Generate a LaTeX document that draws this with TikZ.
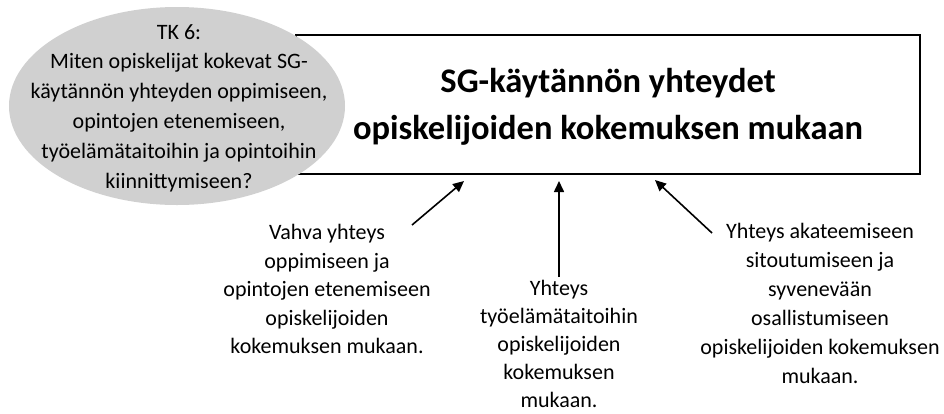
\documentclass[tikz,border=0pt]{standalone}
\usepackage{fontspec}
\setmainfont{Carlito}
\usetikzlibrary{arrows.meta,shapes.geometric}
\definecolor{qgray}{RGB}{208,208,208}
\begin{document}
\begin{tikzpicture}[x=1pt,y=-1pt,
  conn/.style={line width=1.6pt,-{Triangle[length=11pt,width=10pt]}},
  lbl/.style={align=center,inner sep=0pt,font=\fontsize{22}{28.5}\selectfont},
  titletext/.style={align=center,inner sep=0pt,font=\bfseries\fontsize{34.5}{47}\selectfont},
  frame/.style={draw=black,line width=2.2pt,inner sep=0pt},
  qbubble/.style={ellipse,fill=qgray,inner sep=0pt}]
\fill[white] (0,0) rectangle (944,413);
\useasboundingbox (0,0) rectangle (944,413);

% main box and its title
\node[frame,minimum width=624pt,minimum height=139pt] (box) at (608,104.5) {};
\node[titletext] (title) at (608,107) {SG-käytännön yhteydet\\opiskelijoiden kokemuksen mukaan};

% research question bubble, drawn over the box's left edge
\node[qbubble,minimum width=336pt,minimum height=198pt] (q) at (177,106) {};
\node[lbl,font=\fontsize{22}{29.8}\selectfont] (qtext) at (179,108) {TK 6:\\Miten opiskelijat kokevat SG-\\käytännön yhteyden oppimiseen,\\opintojen etenemiseen,\\työelämätaitoihin ja opintoihin\\kiinnittymiseen?};

% findings
\node[lbl] (f1) at (327,289) {Vahva yhteys\\oppimiseen ja\\opintojen etenemiseen\\opiskelijoiden\\kokemuksen mukaan.};
\node[lbl,font=\fontsize{22}{28}\selectfont] (f2) at (559,344) {Yhteys\\työelämätaitoihin\\opiskelijoiden\\kokemuksen\\mukaan.};
\node[lbl,font=\fontsize{22}{29}\selectfont] (f3) at (820,303) {Yhteys akateemiseen\\sitoutumiseen ja\\syvenevään\\osallistumiseen\\opiskelijoiden kokemuksen\\mukaan.};

% arrow ends
\coordinate (s1) at (412,225);
\coordinate (t1) at (464,181);
\coordinate (s2) at (559,277);
\coordinate (t2) at (559,181);
\coordinate (s3) at (712,233);
\coordinate (t3) at (655,180);

\draw[conn] (s1) -- (t1);
\draw[conn] (s2) -- (t2);
\draw[conn] (s3) -- (t3);
\end{tikzpicture}
\end{document}
